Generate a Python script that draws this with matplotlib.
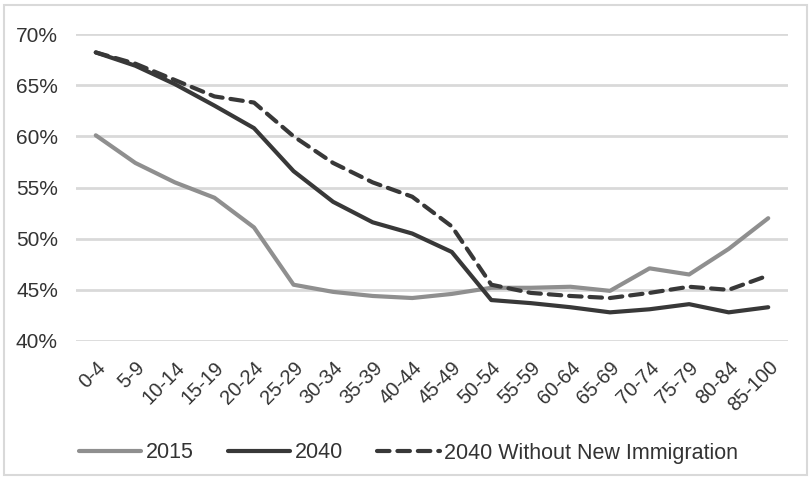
"""
Share by age group, 2015 vs 2040 projections (with and without new immigration).
Writes: out.png
"""

import matplotlib.pyplot as plt
from matplotlib.patches import Rectangle
from matplotlib.lines import Line2D
from matplotlib.ticker import FuncFormatter

age_groups = ["0-4", "5-9", "10-14", "15-19", "20-24", "25-29", "30-34", "35-39",
              "40-44", "45-49", "50-54", "55-59", "60-64", "65-69", "70-74",
              "75-79", "80-84", "85-100"]

share_2015 = [60.1, 57.4, 55.5, 54.0, 51.1, 45.5, 44.8, 44.4, 44.2, 44.6,
              45.2, 45.2, 45.3, 44.9, 47.1, 46.5, 49.0, 52.0]
share_2040 = [68.2, 66.9, 65.1, 63.0, 60.8, 56.6, 53.6, 51.6, 50.5, 48.7,
              44.0, 43.7, 43.3, 42.8, 43.1, 43.6, 42.8, 43.3]
share_2040_no_imm = [68.2, 67.1, 65.5, 63.9, 63.3, 60.0, 57.4, 55.5, 54.1, 51.2,
                     45.5, 44.7, 44.4, 44.2, 44.7, 45.3, 45.0, 46.4]

SERIES = [
    ("2015", share_2015, {"color": "#8f8f8f", "linestyle": "-"}),
    ("2040", share_2040, {"color": "#383838", "linestyle": "-"}),
    ("2040 Without New Immigration", share_2040_no_imm,
     {"color": "#383838", "linestyle": (0, (3.0, 1.9))}),
]

plt.rcParams["font.family"] = ["Liberation Sans", "DejaVu Sans"]
TEXT = "#333333"


def main():
    fig = plt.figure(figsize=(8.11, 4.79), dpi=100)
    ax = fig.add_axes([76 / 811, 138 / 479, 712 / 811, 307 / 479])

    # light frame around the whole chart
    fig.patches.append(Rectangle((0.005, 0.008), 0.99, 0.982, transform=fig.transFigure,
                                 fill=False, edgecolor="#d9d9d9", linewidth=1.5))

    x = range(len(age_groups))
    handles = []
    for label, vals, style in SERIES:
        ax.plot(x, vals, linewidth=3.0, solid_joinstyle="round",
                dash_capstyle="round", solid_capstyle="round", **style)
        handles.append(Line2D([], [], linewidth=3.0, label=label,
                              dash_capstyle="round", solid_capstyle="round", **style))

    ax.set_ylim(40, 70)
    ax.set_xlim(-0.5, len(age_groups) - 0.5)
    ax.set_yticks(range(40, 71, 5))
    ax.yaxis.set_major_formatter(FuncFormatter(lambda v, _: f"{v:.0f}%"))
    ax.set_xticks(list(x))
    ax.set_xticklabels(age_groups, rotation=45, ha="right", rotation_mode="anchor")

    ax.grid(axis="y", color="#d9d9d9", linewidth=2)
    ax.set_axisbelow(True)
    for s in ax.spines.values():
        s.set_visible(False)
    ax.tick_params(length=0, colors=TEXT, labelsize=14.5)
    ax.tick_params(axis="y", pad=13, labelsize=15)
    ax.tick_params(axis="x", pad=12)

    fig.legend(handles=handles, loc="center left", bbox_to_anchor=(79 / 811, 26 / 479),
               ncol=3, frameon=False, fontsize=15.5, handlelength=2.9,
               handletextpad=0.2, columnspacing=1.6, labelcolor=TEXT,
               borderpad=0, borderaxespad=0)

    fig.savefig("out.png", dpi=100)


if __name__ == "__main__":
    main()
